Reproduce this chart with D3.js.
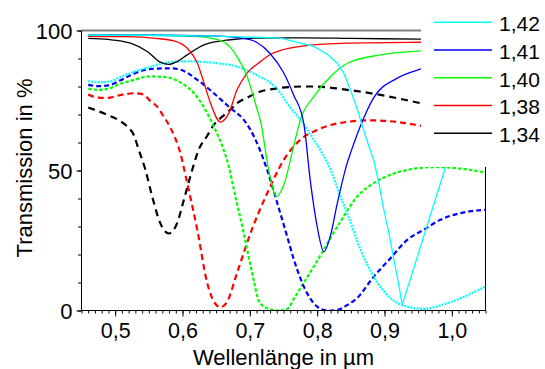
<!DOCTYPE html>
<html>
<head>
<meta charset="utf-8">
<script src="https://cdn.jsdelivr.net/npm/d3@7"></script>
<style>
  html, body { margin: 0; padding: 0; background: #fff; }
  svg { display: block; font-family: "Liberation Sans", Arial, sans-serif; }
</style>
</head>
<body>
<svg id="chart" width="545" height="369"></svg>
<script>
// ---------- data (wavelength in µm, transmission in %) ----------
const seriesNames = ["1,42", "1,41", "1,40", "1,38", "1,34"];
const seriesColors = ["#00ffff", "#0000ff", "#00ff00", "#ff0000", "#000000"];

// solid curves
const solid142 = [[0.46,98.3],[0.55,98.3],[0.65,98],[0.7456,97.3],[0.795,94.3],[0.815,91.5],[0.83,88.3],[0.84,84.5],[0.8495,78.8],[0.86,71.5],[0.869,64.5],[0.877,58.5],[0.884,53.8],[0.892,45],[0.899,36],[0.907,27],[0.914,18.1],[0.921,9.5],[0.9263,2],[1.0,58.4],[1.05,72]];
const solid141 = [[0.46,98.3],[0.55,98.3],[0.65,98],[0.69,97.2],[0.71,95.8],[0.73,91.8],[0.75,85],[0.765,77],[0.78,67],[0.79,46],[0.80,30],[0.81,21],[0.82,27],[0.83,38.4],[0.845,53],[0.8495,56.2],[0.864,65.7],[0.884,76],[0.919,83],[0.9535,86.2],[1.0,88.3],[1.05,89.5]];
const solid140 = [[0.46,98.3],[0.55,98.3],[0.62,97.9],[0.6415,97.3],[0.661,96],[0.681,90.7],[0.696,83.6],[0.711,71.7],[0.716,67.5],[0.728,50.2],[0.7397,40.7],[0.7505,44.9],[0.765,58.6],[0.775,68.1],[0.795,76.4],[0.82,83.6],[0.845,88.3],[0.894,91.3],[0.9535,92.7],[1.05,93.5]];
const solid138 = [[0.46,97.9],[0.52,97.8],[0.56,97.2],[0.587,96.3],[0.607,93.7],[0.622,88.4],[0.632,81.2],[0.6415,74.1],[0.6564,67.3],[0.6688,70.5],[0.681,78.8],[0.696,84.8],[0.716,88.9],[0.731,91.5],[0.7456,92.9],[0.78,94.5],[0.845,95.5],[0.9535,95.8],[1.05,95.9]];
const solid134 = [[0.46,97.2],[0.49,96.8],[0.51,96.2],[0.5228,95.5],[0.5476,92.5],[0.567,88.7],[0.5797,87.9],[0.592,88.9],[0.607,91.3],[0.632,94.9],[0.671,96.7],[0.711,97.3],[0.78,97.4],[0.85,97.2],[0.95,96.9],[1.05,96.6]];

// dashed curves
const dashed142 = [[0.46,81.9],[0.475,81.5],[0.49,81.7],[0.508,83.4],[0.5228,84.8],[0.557,87.4],[0.572,88.4],[0.607,89],[0.622,88.9],[0.656,88.2],[0.671,87.7],[0.706,84.6],[0.7456,77.6],[0.7555,74],[0.775,68.1],[0.795,61],[0.82,50.2],[0.8347,40.7],[0.845,34.5],[0.8644,21.7],[0.884,12.1],[0.909,4.4],[0.9337,1.4],[0.958,0.6],[0.993,2.6],[1.05,8.6]];
const dashed141 = [[0.46,80.6],[0.475,80.1],[0.49,80.4],[0.508,82.2],[0.5228,84],[0.5425,85.8],[0.5624,86.4],[0.582,86.5],[0.597,86],[0.622,82.4],[0.6465,77.6],[0.671,72.3],[0.691,68.1],[0.701,64.5],[0.7258,50.2],[0.7407,38.4],[0.7555,26.4],[0.765,18.5],[0.785,6.2],[0.80,1.4],[0.815,0],[0.83,0.2],[0.845,2],[0.8595,4.5],[0.884,12.1],[0.909,18.7],[0.9337,25.2],[0.958,28.8],[0.983,32.4],[1.013,34.8],[1.05,36]];
const dashed140 = [[0.46,79.3],[0.475,78.8],[0.49,79.2],[0.508,81],[0.5228,82],[0.5525,83.6],[0.577,83.3],[0.6,81],[0.617,77.6],[0.632,72.5],[0.6465,65.7],[0.661,57.4],[0.6688,51.4],[0.6764,43.1],[0.691,27.6],[0.706,10.5],[0.7133,3.5],[0.7258,0.8],[0.743,0],[0.757,0.8],[0.765,4],[0.795,15.7],[0.8347,31.8],[0.8595,40.7],[0.884,45.5],[0.909,48.5],[0.9337,50.2],[0.973,51.2],[1.003,50.9],[1.05,49.3]];
const dashed138 = [[0.46,77.1],[0.475,76],[0.488,75.9],[0.505,76.8],[0.528,77.6],[0.54,77.3],[0.5525,74.8],[0.562,72.9],[0.572,69.3],[0.582,65.3],[0.597,56],[0.607,45.5],[0.622,28.8],[0.6367,9.8],[0.649,2.3],[0.6564,1.2],[0.6664,3.2],[0.681,13.4],[0.701,27.6],[0.7258,41.9],[0.7505,53.8],[0.775,61],[0.80,64.5],[0.8495,67.5],[0.879,67.9],[0.92,67.3],[0.9535,66],[1.05,62]];
const dashed134 = [[0.46,72.5],[0.488,69.9],[0.505,68],[0.518,65.7],[0.528,62.5],[0.535,57.4],[0.545,50.2],[0.555,40.7],[0.567,31.2],[0.5797,27.5],[0.592,31.2],[0.602,39.5],[0.6144,50.2],[0.624,57.4],[0.637,62.5],[0.6465,66.3],[0.656,68.6],[0.671,71.7],[0.681,74],[0.696,76],[0.716,78.2],[0.731,79],[0.78,80],[0.795,80],[0.845,78.8],[0.894,77],[0.9486,74.3],[1.05,69]];

const xTicks = [0.5, 0.6, 0.7, 0.8, 0.9, 1.0];
const xTickLabels = ["0,5", "0,6", "0,7", "0,8", "0,9", "1,0"];
const yTicks = [0, 50, 100];
const yTickLabels = ["0", "50", "100"];

// ---------- chart ----------
const svg = d3.select("#chart");
const L = 81.5, R = 485.5, T = 30.5, B = 310.5;
const x = d3.scaleLinear().domain([0.45, 1.05]).range([L, R]);
const y = d3.scaleLinear().domain([0, 100]).range([B, T]);

svg.append("defs").append("clipPath").attr("id", "plotclip")
  .append("rect").attr("x", L).attr("y", T - 2).attr("width", R - L).attr("height", B - T + 2);

const g = svg.append("g").attr("clip-path", "url(#plotclip)");

const smooth = d3.line().x(d => x(d[0])).y(d => y(d[1])).curve(d3.curveMonotoneX);
const straight = d3.line().x(d => x(d[0])).y(d => y(d[1])).curve(d3.curveLinear);

const dashedSets = [
  { data: dashed134, color: seriesColors[4], dash: "7,5" },
  { data: dashed138, color: seriesColors[3], dash: "6,4" },
  { data: dashed140, color: seriesColors[2], dash: "3.5,2" },
  { data: dashed141, color: seriesColors[1], dash: "5,3" },
  { data: dashed142, color: seriesColors[0], dash: "2,1.2" }
];
dashedSets.forEach(s => {
  g.append("path").attr("d", smooth(s.data)).attr("fill", "none")
    .attr("stroke", s.color).attr("stroke-width", 2.2)
    .attr("stroke-dasharray", s.dash);
});

const solidSets = [
  { data: solid134, color: seriesColors[4], gen: smooth },
  { data: solid138, color: seriesColors[3], gen: smooth },
  { data: solid140, color: seriesColors[2], gen: smooth },
  { data: solid141, color: seriesColors[1], gen: smooth },
  { data: solid142, color: seriesColors[0], gen: straight }
];
solidSets.forEach(s => {
  g.append("path").attr("d", s.gen(s.data)).attr("fill", "none")
    .attr("stroke", s.color).attr("stroke-width", 1.3);
});

// frame: top gray line, right line
svg.append("line").attr("x1", L).attr("x2", R).attr("y1", T).attr("y2", T)
  .attr("stroke", "#808080").attr("stroke-width", 2);
svg.append("line").attr("x1", R).attr("x2", R).attr("y1", T).attr("y2", B)
  .attr("stroke", "#000").attr("stroke-width", 1);

// x axis
const fontTick = "21.5px";
const xAxisMinor = d3.axisBottom(x).tickValues(d3.range(45, 106).map(v => v / 100)).tickSize(3).tickFormat("");
svg.append("g").attr("transform", `translate(0,${B})`).call(xAxisMinor)
  .call(a => a.select(".domain").remove());
const xAxis = d3.axisBottom(x).tickValues(xTicks).tickSize(6).tickPadding(6)
  .tickFormat((d, i) => xTickLabels[i]);
const xg = svg.append("g").attr("transform", `translate(0,${B})`).call(xAxis);
xg.select(".domain").attr("d", `M${L},0H${R}`);
xg.selectAll("text").attr("font-size", fontTick).attr("font-family", "Liberation Sans, Arial, sans-serif").attr("fill", "#000");

// y axis
const yAxisMinor = d3.axisLeft(y).tickValues(d3.range(0, 101, 10)).tickSize(3.5).tickFormat("");
svg.append("g").attr("transform", `translate(${L},0)`).call(yAxisMinor)
  .call(a => a.select(".domain").remove());
const yAxis = d3.axisLeft(y).tickValues(yTicks).tickSize(5).tickPadding(4)
  .tickFormat((d, i) => yTickLabels[i]);
const yg = svg.append("g").attr("transform", `translate(${L},0)`).call(yAxis);
yg.select(".domain").attr("d", `M0,${T}V${B}`);
yg.selectAll("text").attr("font-size", "22px").attr("dy", "0.36em")
  .attr("font-family", "Liberation Sans, Arial, sans-serif").attr("fill", "#000");

// axis titles
svg.append("text").attr("x", (L + R) / 2).attr("y", 365).attr("text-anchor", "middle")
  .attr("font-size", "22px").attr("fill", "#000").text("Wellenlänge in µm");
svg.append("text").attr("transform", "translate(31.5,168) rotate(-90)").attr("text-anchor", "middle")
  .attr("font-size", "22px").attr("fill", "#000").text("Transmission in %");

// legend (white box covering top-right of plot)
svg.append("rect").attr("x", 421).attr("y", 0).attr("width", 124).attr("height", 167).attr("fill", "#fff");
const legY = d3.scaleLinear().domain([0, 4]).range([22.3, 133.3]);
const leg = svg.append("g");
seriesNames.forEach((name, i) => {
  leg.append("line").attr("x1", 434).attr("x2", 492).attr("y1", legY(i)).attr("y2", legY(i))
    .attr("stroke", seriesColors[i]).attr("stroke-width", 1.5);
  leg.append("text").attr("x", 499).attr("y", legY(i) + 8.7)
    .attr("font-size", "21px").attr("fill", "#000").text(name);
});
</script>
</body>
</html>
